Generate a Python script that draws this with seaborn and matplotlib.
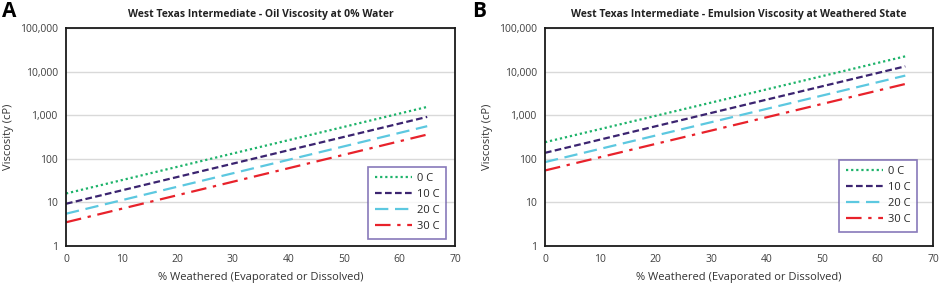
import numpy as np
import pandas as pd
import matplotlib
matplotlib.use("Agg")
import matplotlib.pyplot as plt
import matplotlib.ticker as mticker
import seaborn as sns

# Data (lines are straight on log scale)
weathered = [0, 65]
temps = ["0 C", "10 C", "20 C", "30 C"]
oil_0c = [16, 1550]
oil_10c = [9.3, 915]
oil_20c = [5.5, 560]
oil_30c = [3.5, 360]
emu_0c = [240, 22400]
emu_10c = [137, 13200]
emu_20c = [84, 8100]
emu_30c = [54, 5200]

titles = ["West Texas Intermediate - Oil Viscosity at 0% Water",
          "West Texas Intermediate - Emulsion Viscosity at Weathered State"]
panel_labels = ["A", "B"]
x_label = "% Weathered (Evaporated or Dissolved)"
y_label = "Viscosity (cP)"

def make_df(series):
    rows = []
    for t, vals in zip(temps, series):
        for x, v in zip(weathered, vals):
            rows.append({"x": x, "y": v, "temp": t})
    return pd.DataFrame(rows)

df_oil = make_df([oil_0c, oil_10c, oil_20c, oil_30c])
df_emu = make_df([emu_0c, emu_10c, emu_20c, emu_30c])

palette = {"0 C": "#1db36a", "10 C": "#3b2470", "20 C": "#5cc8e0", "30 C": "#e8222b"}
dashes = {"0 C": (1, 1.3), "10 C": (3, 1.5), "20 C": (6, 3), "30 C": (7, 3, 1.5, 3)}

sns.set_theme(style="white")
plt.rcParams['font.family'] = ['Open Sans', 'DejaVu Sans']

fig = plt.figure(figsize=(9.41, 2.87), dpi=100)
axes_pos = [[66/941, 1 - 246/287, (455-66)/941, (246-28)/287],
            [545/941, 1 - 246/287, (933-545)/941, (246-28)/287]]
legend_pos = [(0.977, 0.032), (0.959, 0.064)]
label_x = [2/941, 472/941]

for i, df in enumerate([df_oil, df_emu]):
    ax = fig.add_axes(axes_pos[i])
    sns.lineplot(data=df, x="x", y="y", hue="temp", style="temp",
                 palette=palette, dashes=dashes, linewidth=1.6, ax=ax)
    ax.set_yscale("log")
    ax.set_ylim(1, 100000)
    ax.set_xlim(0, 70)
    ax.set_xticks(range(0, 71, 10))
    ax.set_yticks([1, 10, 100, 1000, 10000, 100000])
    ax.yaxis.set_major_formatter(mticker.FuncFormatter(lambda v, p: f"{int(round(v)):,}"))
    ax.yaxis.set_minor_locator(mticker.NullLocator())
    ax.grid(axis="y", color="#d9d9d9", linewidth=1)
    ax.tick_params(axis="both", length=0, labelsize=7.5, colors="#404040", pad=6)
    for s in ax.spines.values():
        s.set_color("#1a1a1a")
        s.set_linewidth(1.3)
    ax.set_xlabel(x_label, fontsize=8, color="#333333", labelpad=5)
    ax.set_ylabel(y_label, fontsize=8, color="#333333", labelpad=4)
    ax.set_title(titles[i], fontsize=7.5, fontweight="bold", color="#222222", pad=8)
    leg = ax.legend(loc="lower right", bbox_to_anchor=legend_pos[i], frameon=True,
                    fontsize=8, handlelength=3.4, handletextpad=0.4,
                    labelspacing=0.45, borderpad=0.6, borderaxespad=0,
                    fancybox=False, title=None)
    leg.get_frame().set_edgecolor("#6a58a8")
    leg.get_frame().set_linewidth(1.2)
    fig.text(label_x[i], 0.995, panel_labels[i], fontsize=15, fontweight="bold",
             va="top", ha="left", color="black")

fig.savefig("out.png", dpi=100)
